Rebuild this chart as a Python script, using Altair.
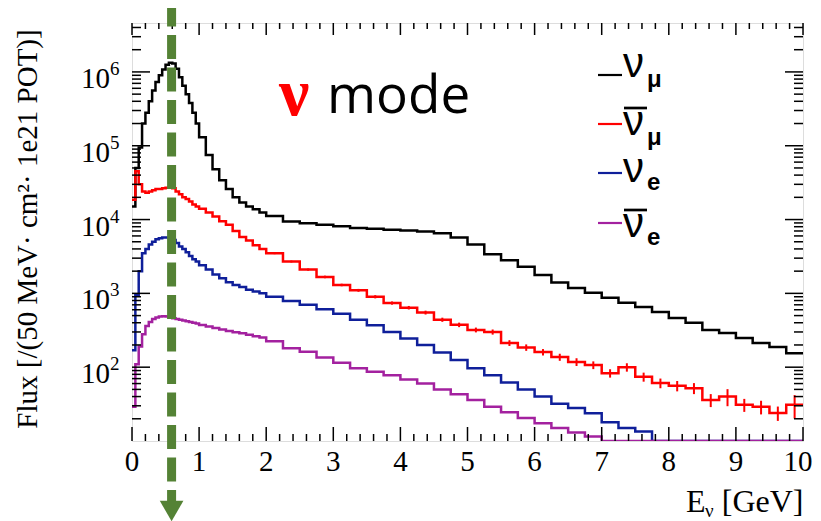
import altair as alt
import pandas as pd

# ---------------- data ----------------
bin_edges = [0.0, 0.05, 0.1, 0.15, 0.2, 0.25, 0.3, 0.35, 0.4, 0.45,
             0.5, 0.55, 0.6, 0.65, 0.7, 0.75, 0.8, 0.85, 0.9, 0.95,
             1.0, 1.1, 1.2, 1.3, 1.4, 1.5, 1.6, 1.7, 1.8, 1.9,
             2.0, 2.25, 2.5, 2.75, 3.0, 3.25, 3.5, 3.75, 4.0, 4.25,
             4.5, 4.75, 5.0, 5.25, 5.5, 5.75, 6.0, 6.25, 6.5, 6.75,
             7.0, 7.25, 7.5, 7.75, 8.0, 8.25, 8.5, 8.75, 9.0, 9.25,
             9.5, 9.75, 10.0]

numu = [1.5e4, 5.0e4, 9.5e4, 2.0e5, 2.8e5, 4.0e5, 5.6e5, 7.3e5, 9.0e5, 1.08e6,
        1.25e6, 1.33e6, 1.3e6, 1.1e6, 8.5e5, 6.5e5, 5.0e5, 3.8e5, 2.8e5, 2.0e5,
        1.3e5, 7.5e4, 4.8e4, 3.4e4, 2.6e4, 2.0e4, 1.7e4, 1.5e4, 1.38e4, 1.25e4,
        1.12e4, 9.4e3, 8.9e3, 8.5e3, 8.1e3, 7.7e3, 7.5e3, 7.3e3, 7.1e3, 6.9e3,
        6.5e3, 5.7e3, 4.6e3, 3.4e3, 2.8e3, 2.3e3, 1.78e3, 1.4e3, 1.18e3, 1.02e3,
        870, 745, 655, 560, 465, 400, 318, 290, 248, 213,
        187, 155]

numubar = [1.85e4, 4.5e4, 3.0e4, 2.4e4, 2.3e4, 2.4e4, 2.5e4, 2.6e4, 2.6e4, 2.65e4,
           2.7e4, 2.7e4, 2.65e4, 2.4e4, 2.2e4, 2.0e4, 1.9e4, 1.75e4, 1.6e4, 1.5e4,
           1.4e4, 1.25e4, 1.1e4, 9.5e3, 8.5e3, 7.0e3, 5.8e3, 5.2e3, 4.5e3, 4.0e3,
           3.5e3, 2.7e3, 2.1e3, 1.67e3, 1.3e3, 1.1e3, 900, 740, 640, 550,
           440, 375, 320, 300, 213, 185, 160, 137, 118, 107,
           83, 100, 74, 61, 56, 52, 36, 40, 31, 29,
           24, 31]

numubar_relerr = [0, 0, 0, 0, 0, 0, 0, 0, 0, 0,
                  0, 0, 0, 0, 0, 0, 0, 0, 0, 0,
                  0, 0, 0, 0, 0, 0, 0, 0, 0, 0,
                  0.03, 0.03, 0.035, 0.04, 0.04, 0.045, 0.05, 0.05, 0.055, 0.06,
                  0.065, 0.07, 0.075, 0.08, 0.09, 0.1, 0.1, 0.11, 0.12, 0.12,
                  0.13, 0.13, 0.14, 0.15, 0.16, 0.17, 0.2, 0.26, 0.2, 0.21,
                  0.22, 0.35]

nue = [170, 950, 2.0e3, 3.5e3, 4.0e3, 4.6e3, 5.0e3, 5.4e3, 5.6e3, 5.7e3,
       5.7e3, 5.6e3, 5.3e3, 4.8e3, 4.3e3, 4.0e3, 3.6e3, 3.2e3, 2.9e3, 2.7e3,
       2.4e3, 2.1e3, 1.8e3, 1.6e3, 1.42e3, 1.3e3, 1.22e3, 1.12e3, 1.06e3, 1.0e3,
       900, 790, 700, 610, 530, 440, 370, 300, 245, 200,
       158, 125, 97, 78, 62, 50, 40, 32, 28, 23.7,
       18, 15, 13.4, 10, 10, 10, 10, 10, 10, 10,
       10, 10]

nuebar = [29, 110, 190, 280, 360, 410, 450, 470, 485, 490,
          485, 470, 460, 450, 440, 430, 420, 410, 400, 390,
          372, 355, 340, 325, 310, 298, 288, 275, 262, 252,
          225, 180, 162, 135, 115, 97, 87, 78, 68, 60,
          50, 43, 36, 29, 24.5, 20.5, 17.4, 15, 13, 11.5,
          10, 10, 10, 10, 10, 10, 10, 10, 10, 10,
          10, 10]

decade_exps = [2, 3, 4, 5, 6]
x_major = [0, 1, 2, 3, 4, 5, 6, 7, 8, 9, 10]
arrow_energy = 0.59
y_title = "Flux [/(50 MeV· cm²· 1e21 POT)]"

# ---------------- styling / layout ----------------
W, H = 671, 418
C_NUMU, C_NUMUBAR, C_NUE, C_NUEBAR = "#000000", "#ff0000", "#0f1f9a", "#a3219f"
GREEN = "#548235"
SERIF = "Liberation Serif"
SANS = "Liberation Sans"

xscale = alt.Scale(domain=[0, 10], nice=False, zero=False)
yscale = alt.Scale(type="log", domain=[10, 4.6e6], nice=False)
one = pd.DataFrame({"k": [0]})


def X(field):
    return alt.X(field, scale=xscale, axis=None)


def Y(field):
    return alt.Y(field, scale=yscale, axis=None)


def hist_layer(vals, color):
    df = pd.DataFrame({"E": bin_edges, "flux": list(vals) + [vals[-1]]})
    return alt.Chart(df).mark_line(interpolate="step-after", color=color,
                                   strokeWidth=2.5, clip=True).encode(
        x=X("E:Q"), y=Y("flux:Q"))


layers = [
    hist_layer(numu, C_NUMU),
    hist_layer(numubar, C_NUMUBAR),
    hist_layer(nue, C_NUE),
    hist_layer(nuebar, C_NUEBAR),
]

# error bars on anti-numu
err_rows = []
for i, (v, r) in enumerate(zip(numubar, numubar_relerr)):
    if r > 0:
        c = 0.5 * (bin_edges[i] + bin_edges[i + 1])
        err_rows.append({"E": c, "lo": v * (1 - r), "hi": v * (1 + r)})
err_df = pd.DataFrame(err_rows)
layers.append(alt.Chart(err_df).mark_rule(color=C_NUMUBAR, strokeWidth=2).encode(
    x=X("E:Q"), y=Y("lo:Q"), y2="hi:Q"))

# ---------------- ROOT-style inward ticks ----------------
y_major_vals = [10 ** e for e in decade_exps]
y_minor_vals = [m * 10 ** k for k in range(1, 7) for m in range(2, 10) if m * 10 ** k < 4.6e6]
x_minor_vals = [round(0.2 * i, 2) for i in range(1, 50) if i % 5 != 0]

ymaj = pd.DataFrame({"v": y_major_vals})
ymin = pd.DataFrame({"v": y_minor_vals})
xmaj = pd.DataFrame({"E": x_major})
xmin = pd.DataFrame({"E": x_minor_vals})


def yticks(df, x0, x1):
    return alt.Chart(df).mark_rule(color="black", strokeWidth=1.5).encode(
        y=Y("v:Q"), x=alt.value(x0), x2=alt.value(x1))


def xticks(df, y0, y1):
    return alt.Chart(df).mark_rule(color="black", strokeWidth=1.5).encode(
        x=X("E:Q"), y=alt.value(y0), y2=alt.value(y1))


layers += [
    yticks(ymaj, 0, 18), yticks(ymin, 0, 9),
    yticks(ymaj, W, W - 18), yticks(ymin, W, W - 9),
    xticks(xmaj, H, H - 14), xticks(xmin, H, H - 7),
    xticks(xmaj, 0, 12), xticks(xmin, 0, 6),
]

# x tick labels (the last one nudged so it stays inside the page)
xlab_main = pd.DataFrame({"E": x_major[:-1]})
xlab_last = pd.DataFrame({"E": x_major[-1:]})
for df_lab, shift in ((xlab_main, 0), (xlab_last, -5)):
    layers.append(alt.Chart(df_lab).mark_text(align="center", baseline="alphabetic",
                                              font=SERIF, fontSize=29, color="black",
                                              dx=shift).encode(
        x=X("E:Q"), y=alt.value(448), text=alt.Text("E:Q", format="d")))

# y tick labels 10^n
ylab = pd.DataFrame({"v": y_major_vals, "e": [str(e) for e in decade_exps]})
layers.append(alt.Chart(ylab).mark_text(align="right", baseline="alphabetic", dy=16,
                                        font=SERIF, fontSize=29, color="black").encode(
    y=Y("v:Q"), x=alt.value(-22), text=alt.value("10")))
layers.append(alt.Chart(ylab).mark_text(align="left", baseline="alphabetic", dy=3,
                                        font=SERIF, fontSize=19, color="black").encode(
    y=Y("v:Q"), x=alt.value(-22), text="e:N"))


def label(txt, x, y, size, color="black", font=SERIF, weight="normal", align="left",
          angle=0):
    return alt.Chart(one).mark_text(align=align, baseline="alphabetic", font=font,
                                    fontSize=size, fontWeight=weight, color=color,
                                    angle=angle).encode(
        x=alt.value(x), y=alt.value(y), text=alt.value(txt))


def seg(x0, x1, y, color, width):
    return alt.Chart(one).mark_rule(color=color, strokeWidth=width).encode(
        x=alt.value(x0), x2=alt.value(x1), y=alt.value(y))


# y axis title
layers.append(label(y_title, -95, 206, 29, align="center", angle=270))

# x axis title  E_nu [GeV]
layers += [
    label("E", 554, 489, 32),
    label("ν", 573, 494, 19),
    label("[GeV]", 671.5, 489, 32, align="right"),
]

# "nu mode"
layers += [
    label("ν", 147, 92, 68, color="#ff0000", weight="bold"),
    label("mode", 195, 90, 53, font="Open Sans"),
]

# legend
leg = [
    (C_NUMU, 52, 54, "μ", 64, False),
    (C_NUMUBAR, 101, 112, "μ", 122, True),
    (C_NUE, 150, 159, "e", 167, False),
    (C_NUEBAR, 200, 214, "e", 222, True),
]
for col, ly, nb, sub, sb, bar in leg:
    layers.append(seg(466, 490, ly, col, 2.2))
    layers.append(label("ν", 491, nb, 42, font=SANS))
    layers.append(label(sub, 515, sb, 24, font=SANS, weight="bold"))
    if bar:
        layers.append(seg(492, 515, nb - 27, "black", 2.7))

# green dashed arrow
arrow_df = pd.DataFrame({"E": [arrow_energy]})
layers.append(alt.Chart(arrow_df).mark_rule(color=GREEN, strokeWidth=9,
                                            strokeDash=[24, 8.5], strokeDashOffset=5.6).encode(
    x=X("E:Q"), y=alt.value(-15), y2=alt.value(481)))
layers.append(alt.Chart(arrow_df).mark_point(shape="triangle-down", filled=True, opacity=1,
                                             size=560, color=GREEN).encode(
    x=X("E:Q"), y=alt.value(488)))

chart = alt.layer(*layers).properties(
    width=W, height=H,
    padding={"left": 124, "top": 15, "right": 10, "bottom": 80},
    autosize=alt.AutoSizeParams(type="none"),
).configure_view(stroke="black", strokeWidth=1.5).configure(background="white")

chart.save("out.html", embed_options={"renderer": "svg", "actions": False})
